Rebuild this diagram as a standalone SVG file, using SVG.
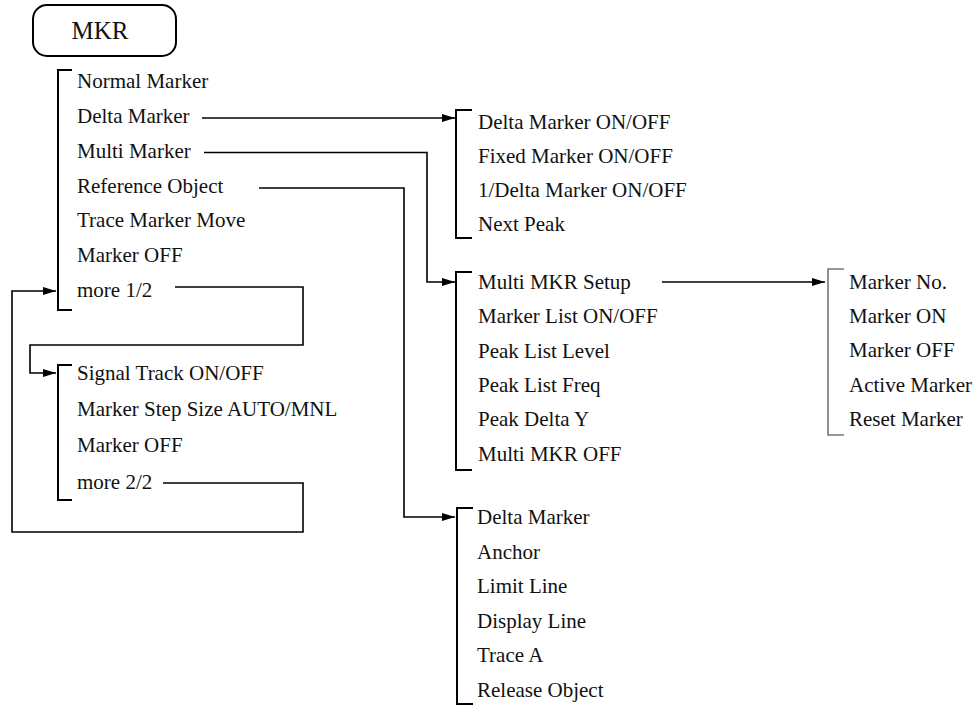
<svg xmlns="http://www.w3.org/2000/svg" width="976" height="706" viewBox="0 0 976 706">
<defs>
<marker id="arr" markerUnits="userSpaceOnUse" markerWidth="14" markerHeight="9" refX="13" refY="4" orient="auto">
<path d="M0,0 L13,4 L0,8 z" fill="#000"/>
</marker>
<style>
text{font-family:"Liberation Serif","Times New Roman",serif;font-size:21px;fill:#111}
.title{font-size:25px}
.br{fill:none;stroke:#000;stroke-width:2}
.brg{fill:none;stroke:#777;stroke-width:1.6}
.ln{fill:none;stroke:#000;stroke-width:1.6}
</style>
</defs>
<rect width="976" height="706" fill="#fff"/>
<g id="mkr">
<rect x="33" y="5" width="143" height="51" rx="14" ry="14" fill="none" stroke="#000" stroke-width="2"/>
<text class="title" x="100" y="39" text-anchor="middle">MKR</text>
</g>
<g id="menu1">
<path class="br" d="M72,70 H58 V310 H72"/>
<text x="77" y="88">Normal Marker</text>
<text x="77" y="123">Delta Marker</text>
<text x="77" y="157.5">Multi Marker</text>
<text x="77" y="192.5">Reference Object</text>
<text x="77" y="227">Trace Marker Move</text>
<text x="77" y="262">Marker OFF</text>
<text x="77" y="297">more 1/2</text>
</g>
<g id="menu2">
<path class="br" d="M72,365 H58 V500 H72"/>
<text x="77" y="380">Signal Track ON/OFF</text>
<text x="77" y="415.5">Marker Step Size AUTO/MNL</text>
<text x="77" y="451.5">Marker OFF</text>
<text x="77" y="488.5">more 2/2</text>
</g>
<g id="delta">
<path class="br" d="M472,110 H456 V238 H472"/>
<text x="478" y="128.5">Delta Marker ON/OFF</text>
<text x="478" y="162.5">Fixed Marker ON/OFF</text>
<text x="478" y="196.5">1/Delta Marker ON/OFF</text>
<text x="478" y="230.5">Next Peak</text>
</g>
<g id="multi">
<path class="br" d="M472,272 H456 V470 H472"/>
<text x="478" y="288.5">Multi MKR Setup</text>
<text x="478" y="323">Marker List ON/OFF</text>
<text x="478" y="357.5">Peak List Level</text>
<text x="478" y="392">Peak List Freq</text>
<text x="478" y="426">Peak Delta Y</text>
<text x="478" y="460.5">Multi MKR OFF</text>
</g>
<g id="setup">
<path class="brg" d="M844,269 H828 V435 H844"/>
<text x="849" y="289">Marker No.</text>
<text x="849" y="323">Marker ON</text>
<text x="849" y="357">Marker OFF</text>
<text x="849" y="391.5">Active Marker</text>
<text x="849" y="426">Reset Marker</text>
</g>
<g id="refobj">
<path class="br" d="M473,508 H457 V704 H473"/>
<text x="477" y="524">Delta Marker</text>
<text x="477" y="558.5">Anchor</text>
<text x="477" y="593">Limit Line</text>
<text x="477" y="627.5">Display Line</text>
<text x="477" y="662">Trace A</text>
<text x="477" y="696.5">Release Object</text>
</g>
<g id="connectors">
<path class="ln" d="M202,118 H455" marker-end="url(#arr)"/>
<path class="ln" d="M204,152.5 H427 V282 H455" marker-end="url(#arr)"/>
<path class="ln" d="M259,188 H404 V517 H455" marker-end="url(#arr)"/>
<path class="ln" d="M175,287 H303 V345 H30 V373 H56" marker-end="url(#arr)"/>
<path class="ln" d="M163,483 H303 V532 H12 V291 H56" marker-end="url(#arr)"/>
<path class="ln" d="M662,282 H825" marker-end="url(#arr)"/>
</g>
</svg>
